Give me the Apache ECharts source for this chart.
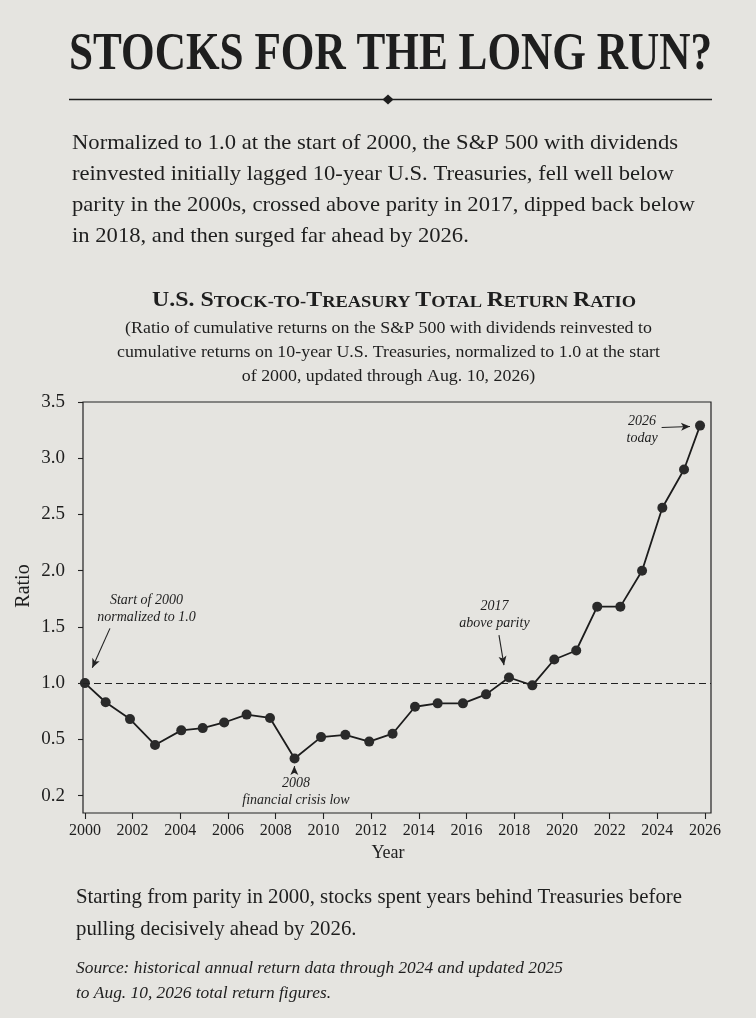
<!DOCTYPE html>
<html><head><meta charset="utf-8">
<script src="https://cdn.jsdelivr.net/npm/echarts@6/dist/echarts.min.js"></script>
<style>html,body{margin:0;padding:0;background:#e5e4e0}#c{width:756px;height:1018px}</style>
</head><body><div id="c"></div>
<script>
// ---- data ----
const years = [2000.00, 2000.87, 2001.89, 2002.94, 2004.04, 2004.94, 2005.84, 2006.78, 2007.76, 2008.79,
               2009.90, 2010.92, 2011.92, 2012.90, 2013.84, 2014.79, 2015.85, 2016.82, 2017.78, 2018.76,
               2019.68, 2020.60, 2021.48, 2022.45, 2023.36, 2024.21, 2025.12, 2025.79];
const ratios = [1.00, 0.83, 0.68, 0.45, 0.58, 0.60, 0.65, 0.72, 0.69, 0.33,
                0.52, 0.54, 0.48, 0.55, 0.79, 0.82, 0.82, 0.90, 1.05, 0.98,
                1.21, 1.29, 1.68, 1.68, 2.00, 2.56, 2.90, 3.29];
const xTickYears = [2000, 2002, 2004, 2006, 2008, 2010, 2012, 2014, 2016, 2018, 2020, 2022, 2024, 2026];
const yTickValues = [0, 0.5, 1.0, 1.5, 2.0, 2.5, 3.0, 3.5];
const yTickLabels = ['0.2', '0.5', '1.0', '1.5', '2.0', '2.5', '3.0', '3.5'];
const parity = 1.0;

const titleText = 'STOCKS FOR THE LONG RUN?';
const introLines = [
  'Normalized to 1.0 at the start of 2000, the S&P 500 with dividends',
  'reinvested initially lagged 10-year U.S. Treasuries, fell well below',
  'parity in the 2000s, crossed above parity in 2017, dipped back below',
  'in 2018, and then surged far ahead by 2026.'
];
const chartTitleParts = [['U.S. S', 'b'], ['TOCK-TO-', 's'], ['T', 'b'], ['REASURY ', 's'], ['T', 'b'], ['OTAL ', 's'], ['R', 'b'], ['ETURN ', 's'], ['R', 'b'], ['ATIO', 's']];
const subtitleLines = [
  '(Ratio of cumulative returns on the S&P 500 with dividends reinvested to',
  'cumulative returns on 10-year U.S. Treasuries, normalized to 1.0 at the start',
  'of 2000, updated through Aug. 10, 2026)'
];
const closingLines = [
  'Starting from parity in 2000, stocks spent years behind Treasuries before',
  'pulling decisively ahead by 2026.'
];
const sourceLines = [
  'Source: historical annual return data through 2024 and updated 2025',
  'to Aug. 10, 2026 total return figures.'
];
const annotationTexts = ['Start of 2000\nnormalized to 1.0', '2008\nfinancial crisis low', '2017\nabove parity', '2026\ntoday'];

// ---- layout ----
const FAM = '"Liberation Serif", "Times New Roman", serif';
const INK = '#1e1e1e';
const ctx = document.createElement('canvas').getContext('2d');
function measure(text, size, weight, style) {
  ctx.font = (style || 'normal') + ' ' + (weight || 'normal') + ' ' + size + 'px ' + FAM;
  return ctx.measureText(text).width;
}
function textEl(text, size, x, centerY, align, scaleX, weight, style) {
  return {
    type: 'text', x: x, y: centerY, scaleX: scaleX || 1, silent: true,
    style: { text: text, x: 0, y: 0, align: align, verticalAlign: 'middle', fill: INK,
             fontSize: size, fontFamily: FAM, fontWeight: weight || 'normal', fontStyle: style || 'normal' }
  };
}

const graphics = [];
// main title (condensed)
const TS = 53;
const titleScale = 643 / measure(titleText, TS, 'bold');
graphics.push(textEl(titleText, TS, 69, 55, 'left', titleScale, 'bold'));
// rule with diamond
graphics.push({ type: 'line', silent: true, shape: { x1: 69, y1: 99.5, x2: 712, y2: 99.5 }, style: { stroke: INK, lineWidth: 1.3 } });
graphics.push({ type: 'polygon', silent: true, shape: { points: [[388, 94.5], [393.5, 99.5], [388, 104.5], [382.5, 99.5]] }, style: { fill: INK } });
// intro paragraph
const IS = 22;
const introScale = 606 / measure(introLines[0], IS);
[143, 174, 205, 236].forEach((c, i) => graphics.push(textEl(introLines[i], IS, 72, c, 'left', introScale)));
// chart title in small caps
const BS = 22, SS = 17;
let ctW = 0;
chartTitleParts.forEach(p => { ctW += measure(p[0], p[1] === 'b' ? BS : SS, 'bold'); });
graphics.push({
  type: 'text', x: 394, y: 298, scaleX: 484 / ctW, silent: true,
  style: {
    text: chartTitleParts.map(p => '{' + p[1] + '|' + p[0] + '}').join(''),
    x: 0, y: 0, align: 'center', verticalAlign: 'middle', fill: INK,
    rich: {
      b: { fontSize: BS, fontFamily: FAM, fontWeight: 'bold', fill: INK, verticalAlign: 'bottom', lineHeight: 26 },
      s: { fontSize: SS, fontFamily: FAM, fontWeight: 'bold', fill: INK, verticalAlign: 'bottom', lineHeight: 26 }
    }
  }
});
// subtitle
const SUB = 16.5;
const subScale = 543 / measure(subtitleLines[1], SUB);
[329, 353, 377].forEach((c, i) => graphics.push(textEl(subtitleLines[i], SUB, 388.5, c, 'center', subScale)));
// axis names
graphics.push({ type: 'text', x: 388, y: 853, silent: true, style: { text: 'Year', align: 'center', verticalAlign: 'middle', fill: INK, fontSize: 18, fontFamily: FAM } });
graphics.push({ type: 'text', x: 24, y: 586, rotation: Math.PI / 2, silent: true, style: { text: 'Ratio', align: 'center', verticalAlign: 'middle', fill: INK, fontSize: 20, fontFamily: FAM } });
// closing text
const CS = 21;
const closeScale = 606 / measure(closingLines[0], CS);
[897, 929].forEach((c, i) => graphics.push(textEl(closingLines[i], CS, 76, c, 'left', closeScale)));
const SRC = 16.5;
const srcScale = 487 / measure(sourceLines[0], SRC, 'normal', 'italic');
[969, 994].forEach((c, i) => graphics.push(textEl(sourceLines[i], SRC, 76, c, 'left', srcScale, 'normal', 'italic')));

// annotation placement (data coordinates)
const notes = [
  { at: [2002.58, 1.665], from: [2001.05, 1.487], to: [2000.31, 1.137] },
  { at: [2008.85, 0.035], from: [2008.78, 0.205], to: [2008.78, 0.262] },
  { at: [2017.17, 1.605], from: [2017.36, 1.427], to: [2017.57, 1.160] },
  { at: [2023.36, 3.249], from: [2024.18, 3.273], to: [2025.37, 3.282] }
];

const option = {
  backgroundColor: '#e5e4e0',
  animation: false,
  grid: { left: 83, right: 45, top: 402, bottom: 205, show: true, borderColor: '#222', borderWidth: 1.2, backgroundColor: 'transparent' },
  xAxis: {
    type: 'value', min: 1999.92, max: 2026.25,
    axisLine: { show: false, onZero: false },
    splitLine: { show: false },
    axisTick: { show: true, inside: false, length: 6, customValues: xTickYears, lineStyle: { color: '#222', width: 1.1 } },
    axisLabel: { customValues: xTickYears, margin: 10, color: INK, fontSize: 16, fontFamily: FAM, formatter: v => String(Math.round(v)) }
  },
  yAxis: {
    type: 'value', min: -0.155, max: 3.5,
    axisLine: { show: false, onZero: false },
    splitLine: { show: false },
    axisTick: { show: true, inside: false, length: 5, customValues: yTickValues, lineStyle: { color: '#222', width: 1.1 } },
    axisLabel: { customValues: yTickValues, margin: 18, color: INK, fontSize: 19, fontFamily: FAM,
      formatter: v => { const i = yTickValues.findIndex(t => Math.abs(t - v) < 1e-6); return i >= 0 ? yTickLabels[i] : ''; } }
  },
  graphic: graphics,
  series: [{
    type: 'line',
    data: years.map((y, i) => [y, ratios[i]]),
    symbol: 'circle', symbolSize: 10,
    itemStyle: { color: '#2a2a2a' },
    lineStyle: { color: '#1c1c1c', width: 1.8 },
    silent: true,
    z: 3,
    markLine: {
      silent: true, animation: false,
      symbol: ['none', 'none'],
      label: { show: false },
      emphasis: { disabled: true },
      lineStyle: { color: '#222', width: 1.1, type: 'solid' },
      data: [
        { yAxis: parity, lineStyle: { type: [7, 4], width: 1.2, color: '#222' } }
      ].concat(notes.map(n => [
        { coord: n.from, symbol: 'none' },
        { coord: n.to, symbol: 'arrow', symbolSize: [6, 9] }
      ]))
    },
    markPoint: {
      silent: true, animation: false,
      symbol: 'circle', symbolSize: 1,
      itemStyle: { color: 'transparent' },
      label: { show: true, position: 'inside', color: INK, fontSize: 14, fontStyle: 'italic', fontFamily: FAM, lineHeight: 17, align: 'center' },
      data: notes.map((n, i) => ({ coord: n.at, label: { formatter: annotationTexts[i] } }))
    }
  }]
};
const chart = echarts.init(document.getElementById('c'), null, { renderer: 'canvas' });
chart.setOption(option);
</script></body></html>
